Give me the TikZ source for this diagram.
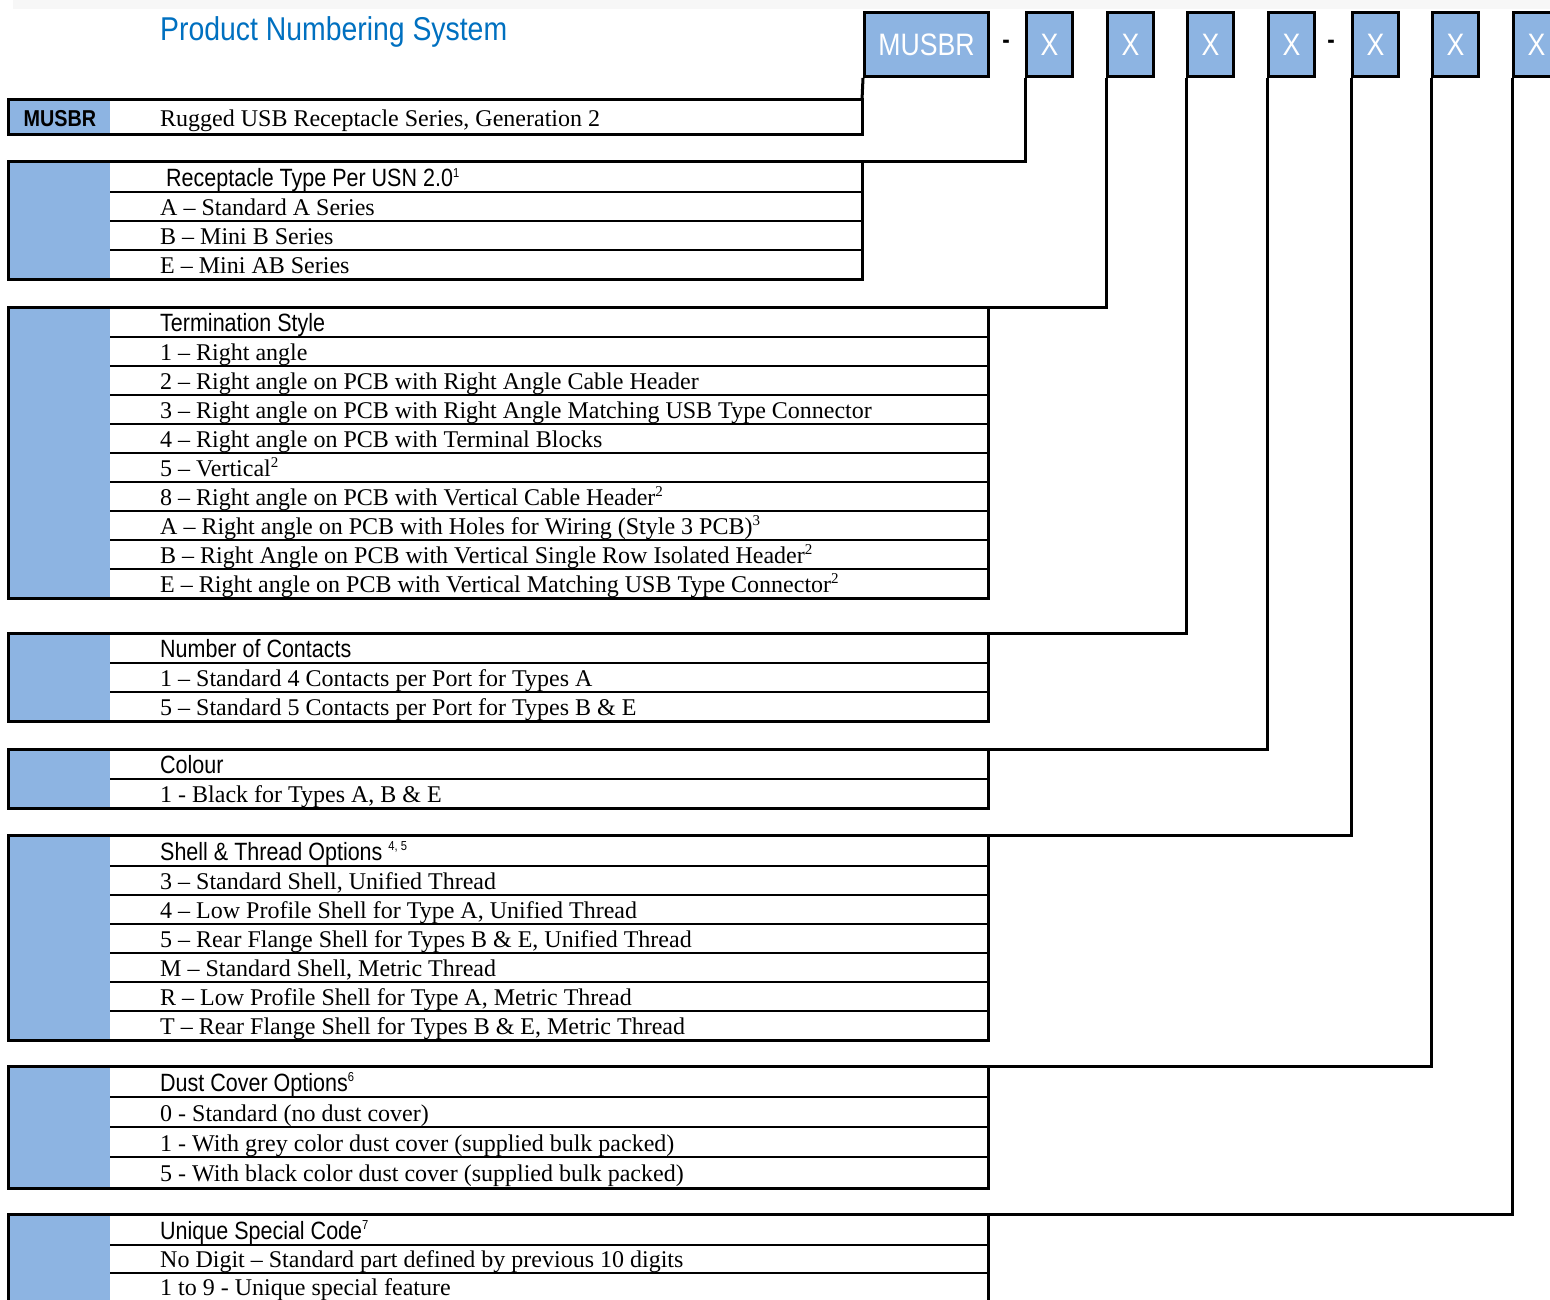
\documentclass[tikz,border=0pt]{standalone}
\usepackage{fontspec}
\setmainfont{Liberation Serif}
\newfontfamily\narrowsf[FakeStretch=0.86]{Liberation Sans}
\usetikzlibrary{positioning}
\definecolor{musblue}{RGB}{141,180,226}
\definecolor{titleblue}{RGB}{0,112,192}
\newcommand{\notemark}[1]{\raisebox{0.75ex}{\fontsize{13}{13}\selectfont #1}}
\newcommand{\cellmark}[1]{\raisebox{0.8ex}{\fontsize{15}{15}\selectfont #1}}

\begin{document}
\begin{tikzpicture}[x=1pt,y=1pt,yscale=-1]
 \tikzstyle{frame} = [line width=3pt]
 \tikzstyle{rowline} = [line width=2pt]
 \tikzstyle{link} = [line width=3pt]
 \tikzstyle{cell} = [anchor=base west,inner sep=0pt,font=\fontsize{24}{24}\selectfont]
 \tikzstyle{head} = [anchor=base west,inner sep=0pt,font=\narrowsf\fontsize{25}{25}\selectfont]
 \tikzstyle{codebox} = [draw,line width=3pt,fill=musblue,text=white,anchor=north west,minimum height=64pt,inner sep=0pt,font=\narrowsf\fontsize{31}{31}\selectfont]
 \useasboundingbox (0,0) rectangle (1550,1300);
 \fill[black!3] (13,0) rectangle (1550,9);

 %Title
 \node[anchor=base west,inner sep=0pt,text=titleblue,font=\narrowsf\fontsize{33}{33}\selectfont] (title) at (160,41) {Product Numbering System};

 %Draw the code boxes along the top
 \node[codebox,minimum width=124pt] (bm) at (863,11) {MUSBR};
 \foreach \n/\x in {1/1025,2/1106,3/1186,4/1267,5/1351,6/1431,7/1512}
   \node[codebox,minimum width=46pt] (bx\n) at (\x,11) {X};
 \node[inner sep=0pt,font=\narrowsf\bfseries\fontsize{26}{26}\selectfont] (dash1) at (1006,44) {-};
 \node[inner sep=0pt,font=\narrowsf\bfseries\fontsize{26}{26}\selectfont] (dash2) at (1331,44) {-};

 %Table 1: series
 \fill[musblue] (8,100) rectangle (110,135);
 \draw[frame] (8,100) rectangle (862,135);
 \coordinate (tab1) at (862,100);
 \node[anchor=base,inner sep=0pt,font=\narrowsf\bfseries\fontsize{23}{23}\selectfont] (series) at (60,127) {MUSBR};
 \node[cell] (seriestxt) at (160,127) {Rugged USB Receptacle Series, Generation 2};

 %Table 2: receptacle type
 \fill[musblue] (8,162) rectangle (110,279);
 \foreach \y in {192,221,250} \draw[rowline] (110,\y) -- (862,\y);
 \draw[frame] (8,162) rectangle (862,279);
 \coordinate (tab2) at (862,162);
 \node[head] (rtype) at (166,187) {Receptacle Type Per USN 2.0\notemark{1}};
 \node[cell] (rtypeA) at (160,215) {A -- Standard A Series};
 \node[cell] (rtypeB) at (160,244) {B -- Mini B Series};
 \node[cell] (rtypeE) at (160,273) {E -- Mini AB Series};

 %Table 3: termination style
 \fill[musblue] (8,307) rectangle (110,598);
 \foreach \y in {337,366,395,424,453,482,511,540,569} \draw[rowline] (110,\y) -- (988,\y);
 \draw[frame] (8,307) rectangle (988,598);
 \coordinate (tab3) at (988,307);
 \node[head] (term) at (160,331) {Termination Style};
 \node[cell] (term1) at (160,360) {1 -- Right angle};
 \node[cell] (term2) at (160,389) {2 -- Right angle on PCB with Right Angle Cable Header};
 \node[cell] (term3) at (160,418) {3 -- Right angle on PCB with Right Angle Matching USB Type Connector};
 \node[cell] (term4) at (160,447) {4 -- Right angle on PCB with Terminal Blocks};
 \node[cell] (term5) at (160,476) {5 -- Vertical\cellmark{2}};
 \node[cell] (term8) at (160,505) {8 -- Right angle on PCB with Vertical Cable Header\cellmark{2}};
 \node[cell] (termA) at (160,534) {A -- Right angle on PCB with Holes for Wiring (Style 3 PCB)\cellmark{3}};
 \node[cell] (termB) at (160,563) {B -- Right Angle on PCB with Vertical Single Row Isolated Header\cellmark{2}};
 \node[cell] (termE) at (160,592) {E -- Right angle on PCB with Vertical Matching USB Type Connector\cellmark{2}};

 %Table 4: contacts
 \fill[musblue] (8,633) rectangle (110,721);
 \foreach \y in {663,692} \draw[rowline] (110,\y) -- (988,\y);
 \draw[frame] (8,633) rectangle (988,721);
 \coordinate (tab4) at (988,633);
 \node[head] (cont) at (160,657) {Number of Contacts};
 \node[cell] (cont1) at (160,686) {1 -- Standard 4 Contacts per Port for Types A};
 \node[cell] (cont5) at (160,715) {5 -- Standard 5 Contacts per Port for Types B \& E};

 %Table 5: colour
 \fill[musblue] (8,749) rectangle (110,808);
 \draw[rowline] (110,779) -- (988,779);
 \draw[frame] (8,749) rectangle (988,808);
 \coordinate (tab5) at (988,749);
 \node[head] (col) at (160,773) {Colour};
 \node[cell] (col1) at (160,802) {1 - Black for Types A, B \& E};

 %Table 6: shell and thread
 \fill[musblue] (8,835) rectangle (110,1040);
 \foreach \y in {866,895,924,953,982,1011} \draw[rowline] (110,\y) -- (988,\y);
 \draw[frame] (8,835) rectangle (988,1040);
 \coordinate (tab6) at (988,835);
 \node[head] (shell) at (160,860) {Shell \& Thread Options \notemark{4, 5}};
 \node[cell] (shell3) at (160,889) {3 -- Standard Shell, Unified Thread};
 \node[cell] (shell4) at (160,918) {4 -- Low Profile Shell for Type A, Unified Thread};
 \node[cell] (shell5) at (160,947) {5 -- Rear Flange Shell for Types B \& E, Unified Thread};
 \node[cell] (shellM) at (160,976) {M -- Standard Shell, Metric Thread};
 \node[cell] (shellR) at (160,1005) {R -- Low Profile Shell for Type A, Metric Thread};
 \node[cell] (shellT) at (160,1034) {T -- Rear Flange Shell for Types B \& E, Metric Thread};

 %Table 7: dust cover
 \fill[musblue] (8,1066) rectangle (110,1188);
 \foreach \y in {1097,1127,1157} \draw[rowline] (110,\y) -- (988,\y);
 \draw[frame] (8,1066) rectangle (988,1188);
 \coordinate (tab7) at (988,1066);
 \node[head] (dust) at (160,1091) {Dust Cover Options\notemark{6}};
 \node[cell] (dust0) at (160,1121) {0 - Standard (no dust cover)};
 \node[cell] (dust1) at (160,1151) {1 - With grey color dust cover (supplied bulk packed)};
 \node[cell] (dust5) at (160,1181) {5 - With black color dust cover (supplied bulk packed)};

 %Table 8: special code (runs off the page)
 \fill[musblue] (8,1214) rectangle (110,1330);
 \foreach \y in {1245,1273} \draw[rowline] (110,\y) -- (988,\y);
 \draw[frame] (8,1214) rectangle (988,1330);
 \coordinate (tab8) at (988,1214);
 \node[head] (spec) at (160,1239) {Unique Special Code\notemark{7}};
 \node[cell] (specnone) at (160,1267) {No Digit -- Standard part defined by previous 10 digits};
 \node[cell] (spec19) at (160,1295) {1 to 9 - Unique special feature};

 %Connectors from the code boxes to the tables
 \draw[link] (bm.south west) -- (tab1);
 \foreach \n/\t in {1/2,2/3,3/4,4/5,5/6,6/7,7/8}
   \draw[link] (bx\n.south west) |- (tab\t);
\end{tikzpicture}
\end{document}
